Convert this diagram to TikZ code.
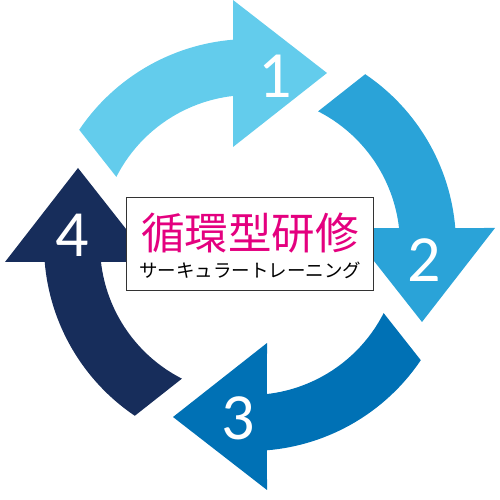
\documentclass[tikz,border=0pt]{standalone}
\usepackage{fontspec}
\setmainfont{Open Sans}
\newfontfamily\numfont{Carlito}
\newfontfamily\jpfont{Noto Sans CJK JP}
\definecolor{aone}{RGB}{99,204,236}
\definecolor{atwo}{RGB}{42,163,216}
\definecolor{athree}{RGB}{0,113,181}
\definecolor{afour}{RGB}{23,45,91}
\definecolor{mag}{RGB}{228,0,127}
\begin{document}
\begin{tikzpicture}[x=1pt,y=1pt,
  numlabel/.style={text=white,inner sep=0pt,font=\numfont\fontsize{66}{66}\selectfont},
  cyclearrow/.style={draw=none}]
\useasboundingbox (0,0) rectangle (500,500);
\coordinate (c) at (250,255);
\foreach \k/\col in {0/aone,1/atwo,2/athree,3/afour}{
  \begin{scope}[shift={(c)},rotate=-90*\k]
    \fill[\col,cyclearrow] (146:206) arc[start angle=146,end angle=94.73,radius=206]
      -- (-17,245) -- (77,172) -- (-17,98) -- (96.5:150)
      arc[start angle=96.5,end angle=153,radius=150] -- cycle;
  \end{scope}
}
\node[numlabel] (n1) at (275,424) {1};
\node[numlabel] (n2) at (424,240) {2};
\node[numlabel] (n3) at (238,82) {3};
\node[numlabel] (n4) at (72,265) {4};
\node[draw=black!80,line width=1pt,fill=white,minimum width=247pt,minimum height=93pt,inner sep=0pt] (box) at (249.5,255.5) {};
\node[inner sep=0pt,text=mag,font=\jpfont\fontsize{43.5}{43.5}\selectfont] (title) at (250,267) {循環型研修};
\node[inner sep=0pt,text=black,font=\jpfont\fontsize{18.5}{18.5}\selectfont] (sub) at (250,230) {サーキュラートレーニング};
\end{tikzpicture}
\end{document}
